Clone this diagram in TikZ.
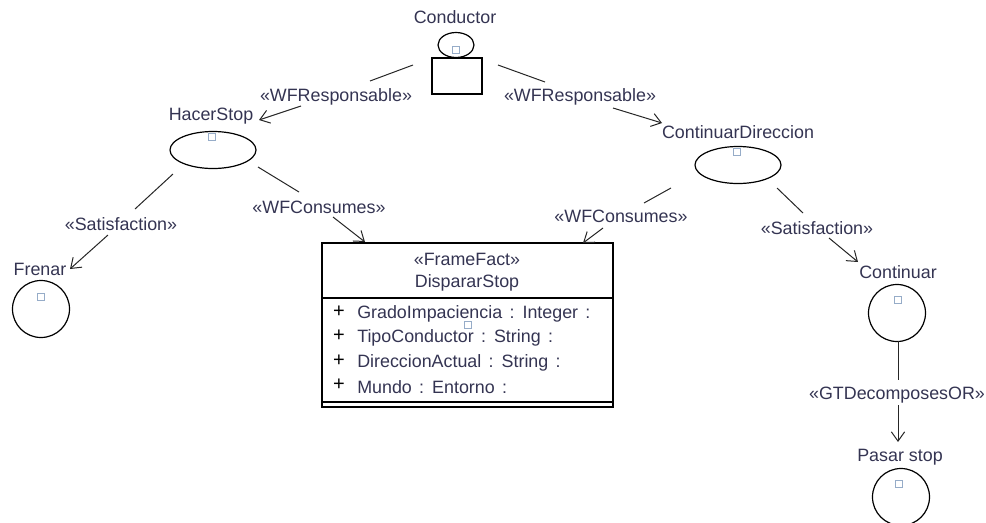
\documentclass[tikz,border=0pt]{standalone}
\usepackage{fontspec}
\setmainfont{Liberation Sans}
\usetikzlibrary{arrows.meta,shapes.geometric}
\definecolor{txtcol}{RGB}{52,52,82}
\definecolor{tickblue}{RGB}{150,172,200}
% colon separator used in the attribute rows
\newcommand\attrcolon{\hspace{5.5pt}:\hspace{6pt}}
\begin{document}
\begin{tikzpicture}[x=0.75pt,y=-0.75pt,
  font=\fontsize{13.4}{15}\selectfont,
  caption/.style={text=txtcol, inner sep=0pt},
  edgeline/.style={line width=0.75pt, draw=black!85},
  openarrow/.style={edgeline, -{Straight Barb[length=7pt,width=10pt,line width=0.75pt]}},
  usecase/.style={ellipse, draw, line width=0.9pt, minimum width=64.5pt, minimum height=27.75pt, inner sep=0pt},
  goal/.style={circle, draw, line width=0.9pt, minimum size=42.75pt, inner sep=0pt},
  tickbox/.style={draw=tickblue, line width=0.6pt, minimum size=5.25pt, inner sep=0pt},
  plus/.style={inner sep=0pt, font=\fontsize{15}{15}\selectfont}]
\useasboundingbox (0,0) rectangle (986,522);
\clip (0,0) rectangle (986,522);

% actor: Conductor
\node[caption] (tConductor) at (455,17) {Conductor};
\node[ellipse, draw, line width=0.9pt, minimum width=27pt, minimum height=18.75pt, inner sep=0pt] (head) at (456,45) {};
\node[draw, line width=0.9pt, minimum width=37.5pt, minimum height=27pt, inner sep=0pt] (body) at (457,76) {};
\node[tickbox] (kHead) at (456,50) {};

% workflows
\node[caption] (tHacer) at (211,116) {HacerStop};
\node[usecase] (hacer) at (213,150) {};
\node[tickbox] (kHacer) at (212,137) {};

\node[caption] (tCont) at (738,132) {ContinuarDireccion};
\node[usecase] (contdir) at (738,165) {};
\node[tickbox] (kCont) at (737,152) {};

% goals
\node[caption] (tFrenar) at (40,269) {Frenar};
\node[goal] (frenar) at (41,309) {};
\node[tickbox] (kFrenar) at (41,297) {};

\node[caption] (tContinuar) at (898,272) {Continuar};
\node[goal] (continuar) at (897,313) {};
\node[tickbox] (kContinuar) at (898,300) {};

\node[caption] (tPasar) at (900,457) {Pasar stop};
\node[goal] (pasar) at (901,497) {};
\node[tickbox] (kPasar) at (899,484) {};

% frame fact
\node[draw, line width=0.9pt, minimum width=218.25pt, minimum height=123pt, inner sep=0pt] (frame) at (467.5,325) {};
\draw[line width=0.9pt] (322,298) coordinate (hdrL) -- (613,298) coordinate (hdrR);
\draw[line width=0.9pt] (322,402) coordinate (btmL) -- (613,402) coordinate (btmR);
\node[caption] (tStereo) at (467,259) {«FrameFact»};
\node[caption] (tFrame) at (467,283) {DispararStop};
\node[tickbox] (kFrame) at (468,325) {};
\foreach \yy/\attr [count=\i] in {314/{GradoImpaciencia\attrcolon Integer\attrcolon},
                                  338/{TipoConductor\attrcolon String\attrcolon},
                                  363/{DireccionActual\attrcolon String\attrcolon},
                                  387/{Mundo\attrcolon Entorno\attrcolon}} {
  \node[plus] (p\i) at (339,\yy-2) {+};
  \node[caption, anchor=west] (a\i) at (357,\yy) {\attr};
}

% connector labels
\node[caption] (rL) at (336,97) {«WFResponsable»};
\node[caption] (rR) at (580,97) {«WFResponsable»};
\node[caption] (sL) at (121,224) {«Satisfaction»};
\node[caption] (wL) at (319,207) {«WFConsumes»};
\node[caption] (wR) at (621,216) {«WFConsumes»};
\node[caption] (sR) at (817,228) {«Satisfaction»};
\node[caption] (gd) at (897,395) {«GTDecomposesOR»};

% connector end points
\coordinate (a1) at (413,65);  \coordinate (a2) at (370,81);
\coordinate (a3) at (301,106); \coordinate (a4) at (259,120);
\coordinate (b1) at (498,65);  \coordinate (b2) at (545,82);
\coordinate (b3) at (613,108); \coordinate (b4) at (662,123);
\coordinate (c1) at (173,174); \coordinate (c2) at (135,209);
\coordinate (c3) at (108,235); \coordinate (c4) at (70,269);
\coordinate (d1) at (258,167); \coordinate (d2) at (299,192);
\coordinate (d3) at (333,217); \coordinate (d4) at (365,242);
\coordinate (e1) at (671,188); \coordinate (e2) at (644,203);
\coordinate (e3) at (603,228); \coordinate (e4) at (583,243);
\coordinate (f1) at (777,188); \coordinate (f2) at (803,213);
\coordinate (f3) at (829,238); \coordinate (f4) at (858,262);
\coordinate (g1) at (898,341); \coordinate (g2) at (898,380);
\coordinate (g3) at (898,405); \coordinate (g4) at (898,442);

% connectors, broken around their labels
\draw[edgeline] (a1) -- (a2);  \draw[openarrow] (a3) -- (a4);
\draw[edgeline] (b1) -- (b2);  \draw[openarrow] (b3) -- (b4);
\draw[edgeline] (c1) -- (c2);  \draw[openarrow] (c3) -- (c4);
\draw[edgeline] (d1) -- (d2);  \draw[openarrow] (d3) -- (d4);
\draw[edgeline] (e1) -- (e2);  \draw[openarrow] (e3) -- (e4);
\draw[edgeline] (f1) -- (f2);  \draw[openarrow] (f3) -- (f4);
\draw[edgeline] (g1) -- (g2);  \draw[openarrow] (g3) -- (g4);
\end{tikzpicture}
\end{document}
